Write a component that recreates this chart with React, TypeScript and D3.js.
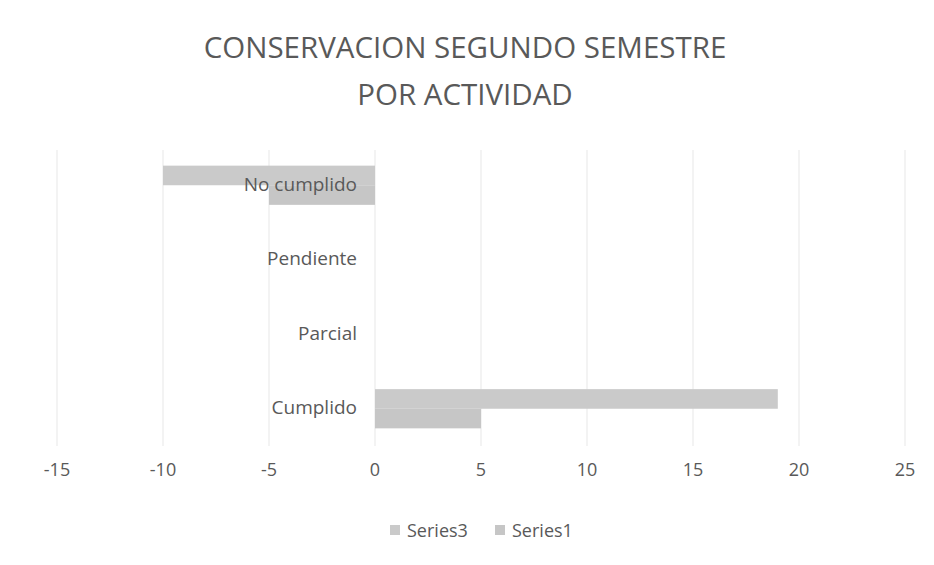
import React, { useRef, useEffect } from 'react'
import * as d3 from 'd3'

const categories = ['No cumplido', 'Pendiente', 'Parcial', 'Cumplido']
const series1 = [-5, 0, 0, 5]
const series3 = [-10, 0, 0, 19]
const xTicks = [-15, -10, -5, 0, 5, 10, 15, 20, 25]
const legendNames = ['Series3', 'Series1']

const W = 934
const H = 565
const FONT = "'Open Sans', sans-serif"
const TXT = '#595959'

const App: React.FC = () => {
  const ref = useRef<SVGSVGElement>(null)

  useEffect(() => {
    const svg = d3.select(ref.current)
    svg.selectAll('*').remove()

    svg.append('rect').attr('width', W).attr('height', H).attr('fill', '#fff')

    const x = d3.scaleLinear().domain([-15, 25]).range([57, 905])
    const y = d3.scaleBand().domain(categories).range([148, 446])
    const inner = d3.scaleBand().domain(['s3', 's1']).range([0, y.bandwidth()]).paddingOuter(0.9).paddingInner(0)

    // title
    const title = svg.append('text')
      .attr('text-anchor', 'middle')
      .attr('fill', TXT)
      .style('font-family', FONT)
      .style('font-size', '29.5px')
    title.append('tspan').attr('x', 465).attr('y', 58).text('CONSERVACION SEGUNDO SEMESTRE')
    title.append('tspan').attr('x', 465).attr('y', 105).text('POR ACTIVIDAD')

    // gridlines
    svg.append('g').selectAll('line').data(xTicks).join('line')
      .attr('x1', d => x(d)).attr('x2', d => x(d))
      .attr('y1', 150).attr('y2', 446)
      .attr('stroke', '#efefef').attr('stroke-width', 1.5)

    // bars
    const bars = svg.append('g')
    const drawSeries = (vals: number[], key: string, color: string) => {
      bars.selectAll(`rect.${key}`).data(vals).join('rect')
        .attr('class', key)
        .attr('x', d => x(Math.min(0, d)))
        .attr('width', d => Math.abs(x(d) - x(0)))
        .attr('y', (d, i) => (y(categories[i]) as number) + (inner(key) as number))
        .attr('height', inner.bandwidth())
        .attr('fill', color)
    }
    drawSeries(series3, 's3', '#cacaca')
    drawSeries(series1, 's1', '#c6c6c6')

    // category labels
    svg.append('g').selectAll('text').data(categories).join('text')
      .attr('x', x(0) - 18)
      .attr('y', d => (y(d) as number) + y.bandwidth() / 2)
      .attr('dy', '0.3em')
      .attr('text-anchor', 'end')
      .attr('fill', TXT)
      .style('font-family', FONT)
      .style('font-size', '19px')
      .text(d => d)

    // x tick labels
    svg.append('g').selectAll('text').data(xTicks).join('text')
      .attr('x', d => x(d))
      .attr('y', 476)
      .attr('text-anchor', 'middle')
      .attr('fill', TXT)
      .style('font-family', FONT)
      .style('font-size', '18px')
      .text(d => String(d))

    // legend
    const lg = svg.append('g')
    const legendX = [390, 495]
    legendNames.forEach((name, i) => {
      lg.append('rect')
        .attr('x', legendX[i]).attr('y', 525)
        .attr('width', 10).attr('height', 10)
        .attr('fill', i === 0 ? '#cacaca' : '#c6c6c6')
      lg.append('text')
        .attr('x', legendX[i] + 17).attr('y', 537)
        .attr('fill', TXT)
        .style('font-family', FONT)
        .style('font-size', '18px')
        .text(name)
    })
  }, [])

  return (
    <svg ref={ref} width={W} height={H} style={{ position: 'absolute', left: 0, top: 0 }} />
  )
}

export default App
